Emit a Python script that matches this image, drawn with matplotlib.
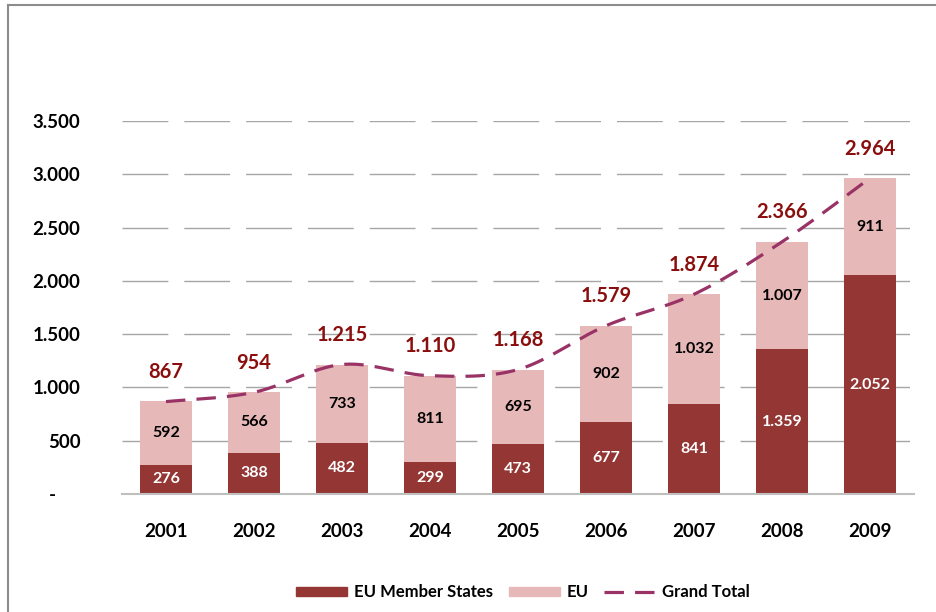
import numpy as np
import matplotlib
matplotlib.use("Agg")
import matplotlib.pyplot as plt
from matplotlib.transforms import ScaledTranslation
from matplotlib.lines import Line2D
from matplotlib.patches import Patch

plt.rcParams['font.family'] = ['Lato', 'DejaVu Sans']
plt.rcParams['font.weight'] = 'bold'
plt.rcParams['lines.scale_dashes'] = False

years = ['2001', '2002', '2003', '2004', '2005', '2006', '2007', '2008', '2009']
member_states = [276, 388, 482, 299, 473, 677, 841, 1359, 2052]
eu = [592, 566, 733, 811, 695, 902, 1032, 1007, 911]
grand_total = [867, 954, 1215, 1110, 1168, 1579, 1874, 2366, 2964]
yticks = [0, 500, 1000, 1500, 2000, 2500, 3000, 3500]

DARK = '#943634'
PINK = '#E6B9B8'
LINE = '#993366'
LABEL_RED = '#8B0E0E'


def fmt(v):
    return f"{v:,}".replace(",", ".")


def catmull_rom(xs, ys, n=40):
    xs = np.asarray(xs, float)
    ys = np.asarray(ys, float)
    px = np.concatenate([[xs[0]], xs, [xs[-1]]])
    py = np.concatenate([[ys[0]], ys, [ys[-1]]])
    outx, outy = [], []
    for i in range(1, len(px) - 2):
        p0 = np.array([px[i - 1], py[i - 1]])
        p1 = np.array([px[i], py[i]])
        p2 = np.array([px[i + 1], py[i + 1]])
        p3 = np.array([px[i + 2], py[i + 2]])
        c1 = p1 + (p2 - p0) / 6.0
        c2 = p2 - (p3 - p1) / 6.0
        t = np.linspace(0, 1, n)[:, None]
        b = ((1 - t) ** 3) * p1 + 3 * ((1 - t) ** 2) * t * c1 + 3 * (1 - t) * t ** 2 * c2 + t ** 3 * p2
        outx.extend(b[:, 0])
        outy.extend(b[:, 1])
    return np.array(outx), np.array(outy)


fig = plt.figure(figsize=(9.37, 6.12), dpi=100)
ax = fig.add_axes([122 / 937, 1 - 494 / 612, (914 - 122) / 937, (494 - 121) / 612])

x = np.arange(len(years))
w = 0.59
ax.bar(x, member_states, width=w, color=DARK, zorder=3)
ax.bar(x, eu, width=w, bottom=member_states, color=PINK, zorder=3)

sx, sy = catmull_rom(x, grand_total)
ax.plot(sx, sy, color=LINE, lw=2.3, linestyle=(0, (14, 8)), zorder=4)

for i in range(len(years)):
    ax.text(x[i], member_states[i] / 2, fmt(member_states[i]), ha='center', va='center',
            color='white', fontsize=11.5, fontweight='bold', zorder=5)
    ax.text(x[i], member_states[i] + eu[i] / 2, fmt(eu[i]), ha='center', va='center',
            color='black', fontsize=11.5, fontweight='bold', zorder=5)
    ax.annotate(fmt(grand_total[i]), (x[i], member_states[i] + eu[i]), xytext=(0, 14),
                textcoords='offset points', ha='center', va='bottom', color=LABEL_RED,
                fontsize=14.5, fontweight='bold', zorder=5)

ax.set_xlim(-0.5, len(years) - 0.5)
ax.set_ylim(0, 3500)
ax.set_yticks(yticks)
ax.set_yticklabels(['-'] + [fmt(v) for v in yticks[1:]])
ax.set_xticks(x)
ax.set_xticklabels(years)
ax.tick_params(axis='both', length=0, labelsize=13.5)
ax.tick_params(axis='y', pad=30)
ax.tick_params(axis='x', pad=21)
lbl0 = ax.get_yticklabels()[0]
lbl0.set_transform(lbl0.get_transform() + ScaledTranslation(-0.24, 0, fig.dpi_scale_trans))

for v in yticks[1:]:
    ax.axhline(v, color='#A6A6A6', lw=1.0, linestyle=(0, (33, 11.5)), zorder=1)
for s in ['top', 'right', 'left']:
    ax.spines[s].set_visible(False)
ax.spines['bottom'].set_color('#BFBFBF')
ax.spines['bottom'].set_linewidth(1.5)
ax.spines['bottom'].set_zorder(4)

handles = [Patch(color=DARK, label='EU Member States'),
           Patch(color=PINK, label='EU'),
           Line2D([0], [0], color=LINE, lw=2.3, linestyle=(0, (14, 8)), label='Grand Total')]
fig.legend(handles=handles, loc='center', bbox_to_anchor=(523 / 937, 1 - 592 / 612), ncol=3,
           frameon=False, fontsize=12, handlelength=3.05, handleheight=0.45, handletextpad=0.4,
           columnspacing=0.95)

# chart frame
fig.add_artist(Line2D([8 / 937, 8 / 937], [0, 1 - 5 / 612], color='#8C8C8C', lw=1.5))
fig.add_artist(Line2D([8 / 937, 1], [1 - 5 / 612, 1 - 5 / 612], color='#8C8C8C', lw=1.5))

fig.savefig('out.png', dpi=100)
